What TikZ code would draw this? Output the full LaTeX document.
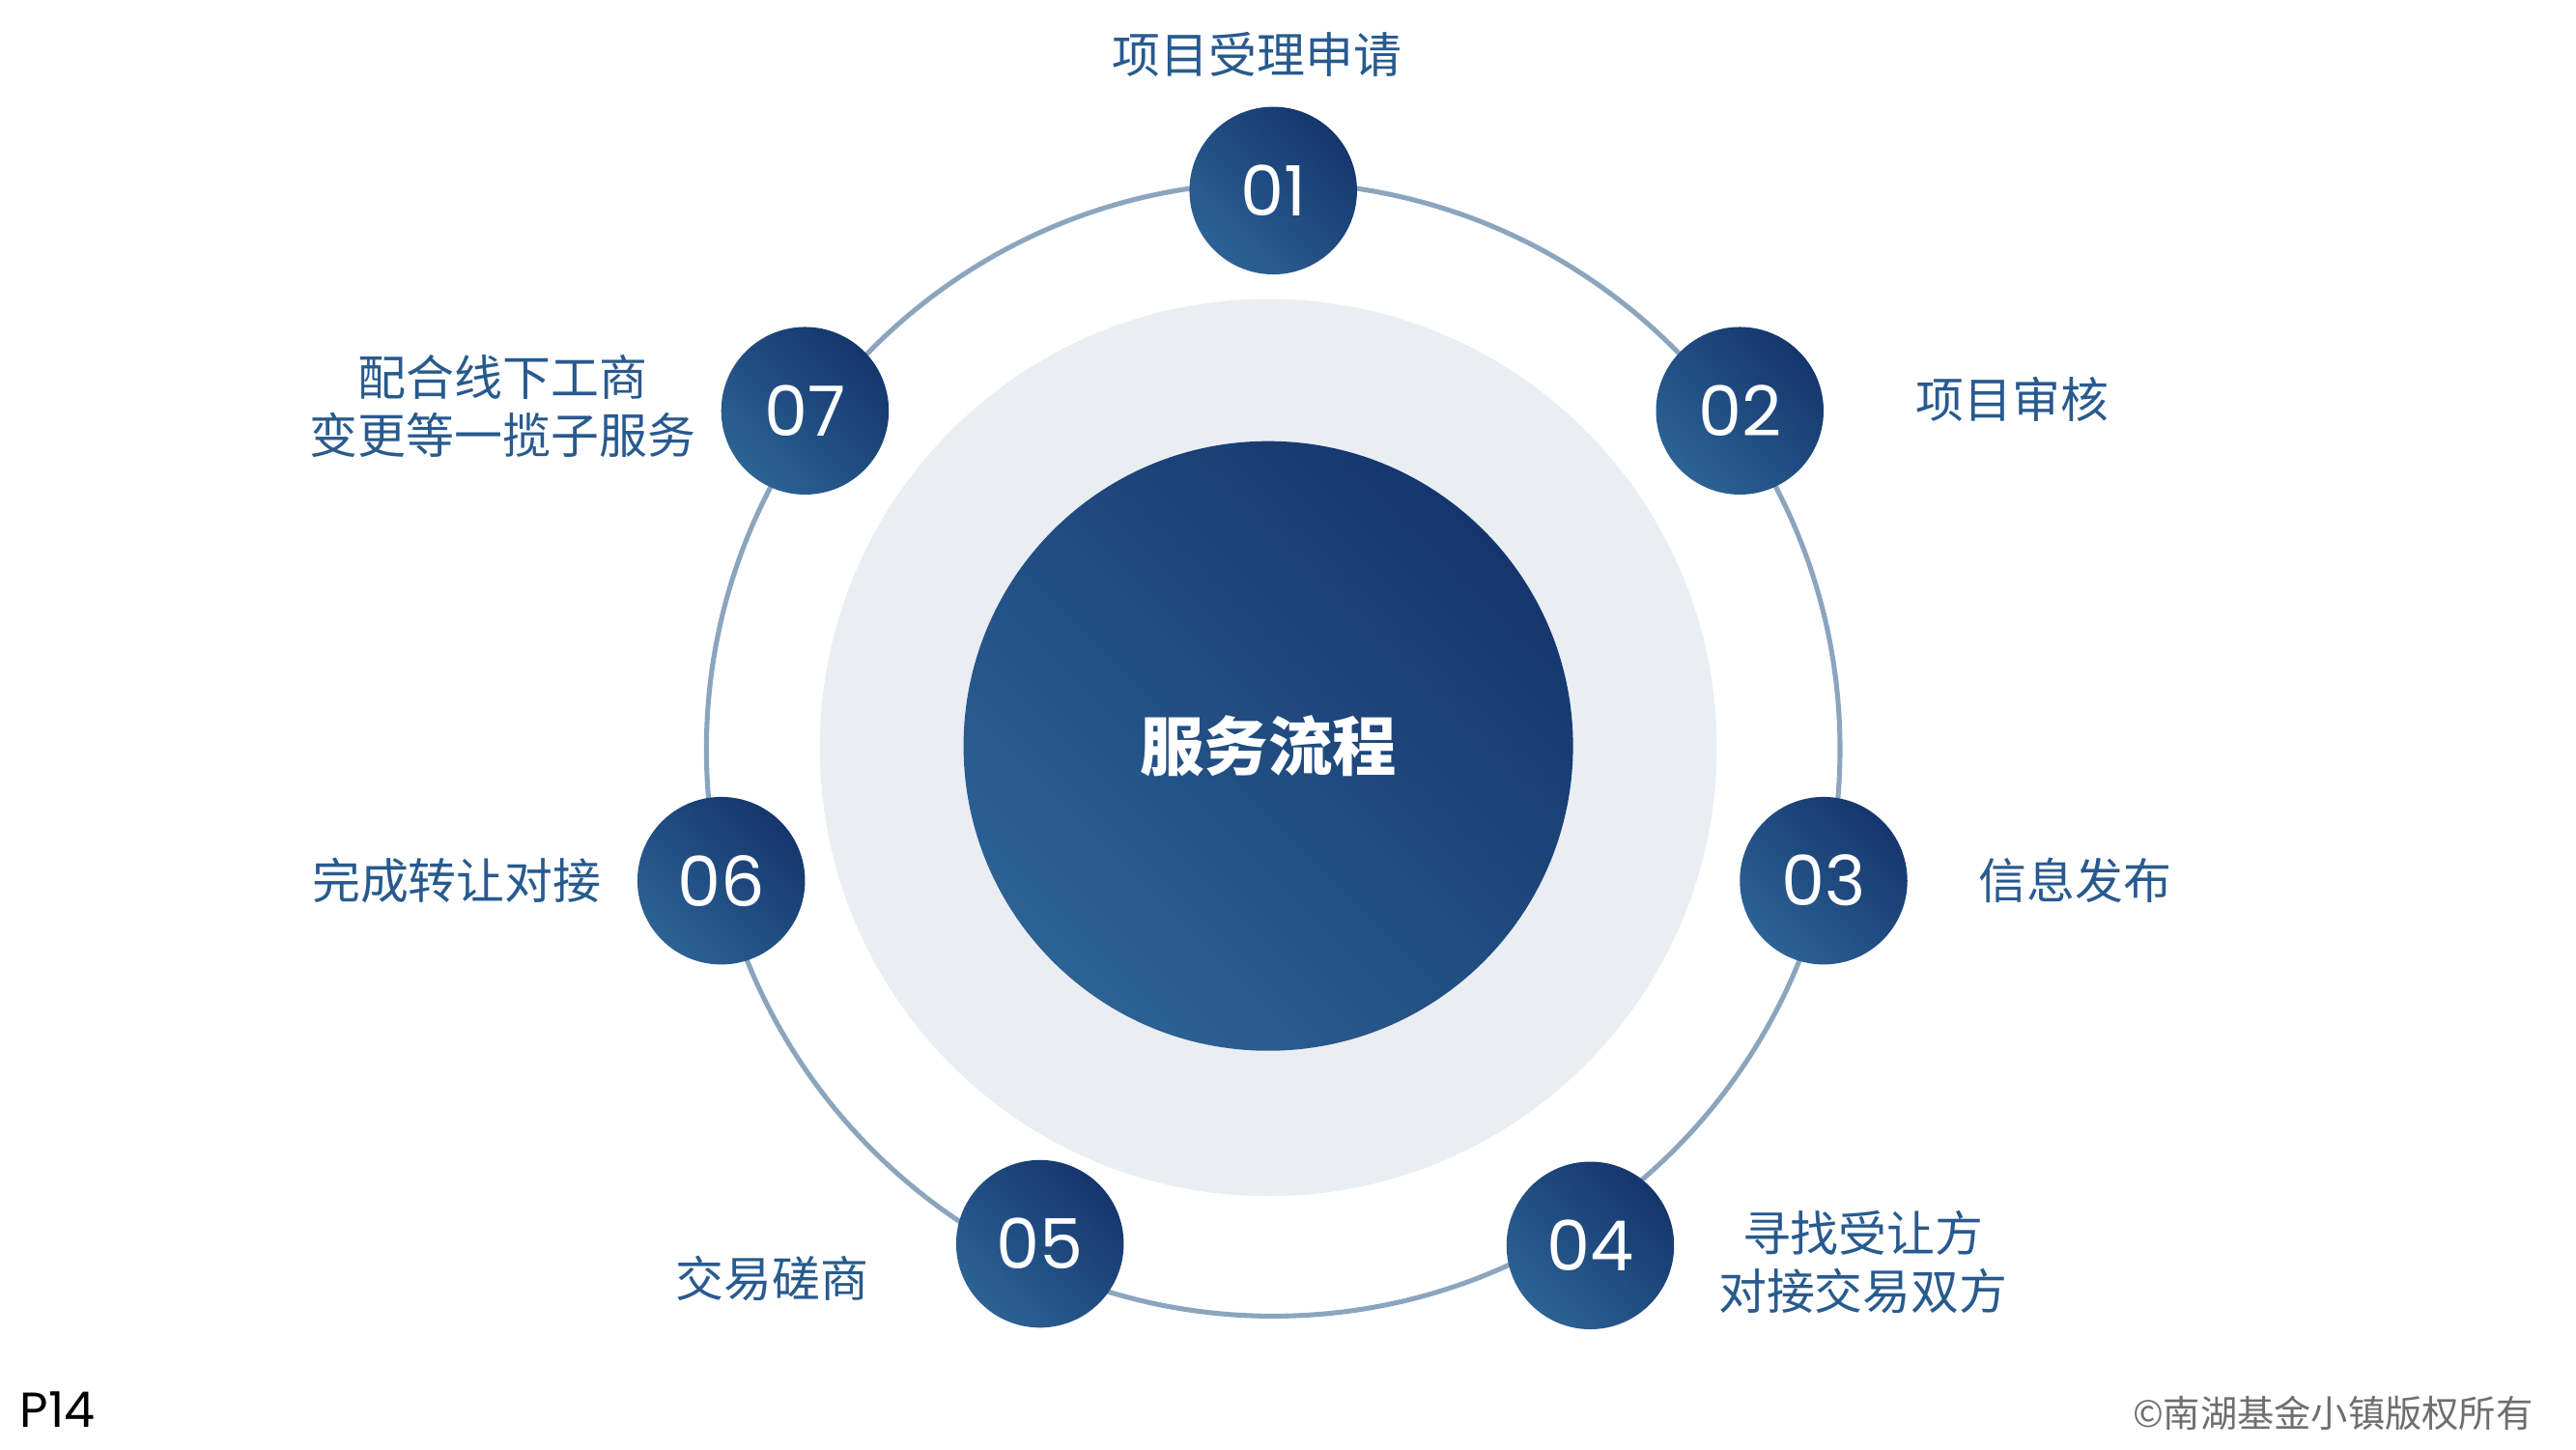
\documentclass[tikz,border=0pt]{standalone}
\usepackage{fontspec}
\setmainfont{Poppins}
\newfontfamily\cjk{Noto Sans CJK SC}
\usepackage{tikz}
\usetikzlibrary{positioning}
\usepackage{xcolor}
\definecolor{navy}{HTML}{15366D}
\definecolor{steel}{HTML}{2C6294}
\definecolor{ringline}{HTML}{8CA5BE}
\definecolor{halo}{HTML}{EAEEF3}
\definecolor{labelblue}{HTML}{285A8E}
\definecolor{footgray}{HTML}{6E6E6E}
\tikzset{
  stepdot/.style={circle,minimum size=20.4mm,inner sep=0pt,top color=navy,bottom color=steel,
    shading angle=-45,text=white,font=\fontsize{24}{24}\selectfont},
  steplabel/.style={text=labelblue,font=\cjk\fontsize{16.7}{20}\selectfont,align=center},
  hub/.style={circle,minimum size=74.2mm,inner sep=0pt,top color=navy,bottom color=steel,
    shading angle=-45,text=white,font=\cjk\bfseries\fontsize{22.2}{24}\selectfont}
}

\begin{document}
\begin{tikzpicture}[x=0.2mm,y=-0.2mm]
\useasboundingbox (0,0) rectangle (1568,882);
% light disc and ring behind the steps
\fill[halo] (772,455) circle[radius=273];
\draw[ringline,line width=1.7pt] (775,456) circle[radius=345];
\node[hub] (hub) at (772,454) {服务流程};
% the seven steps
\foreach \n/\px/\py in {01/775/116,02/1059/250,03/1110/536,04/968/758,05/633/757,06/439/536,07/490/250}
  \node[stepdot] (s\n) at (\px,\py) {\n};
\node[steplabel] (l01) at (765,33) {项目受理申请};
\node[steplabel] (l02) at (1225,243) {项目审核};
\node[steplabel] (l03) at (1263,536) {信息发布};
\node[steplabel] (l04) at (1134,768) {寻找受让方\\对接交易双方};
\node[steplabel] (l05) at (470,778) {交易磋商};
\node[steplabel] (l06) at (278,536) {完成转让对接};
\node[steplabel] (l07) at (306,247) {配合线下工商\\变更等一揽子服务};
% footer
\node[anchor=west,font=\fontsize{17}{17}\selectfont] (page) at (6,858) {P14};
\node[anchor=east,text=footgray,font=\cjk\fontsize{12.8}{14}\selectfont] (copy) at (1548,860) {©南湖基金小镇版权所有};
\end{tikzpicture}
\end{document}
